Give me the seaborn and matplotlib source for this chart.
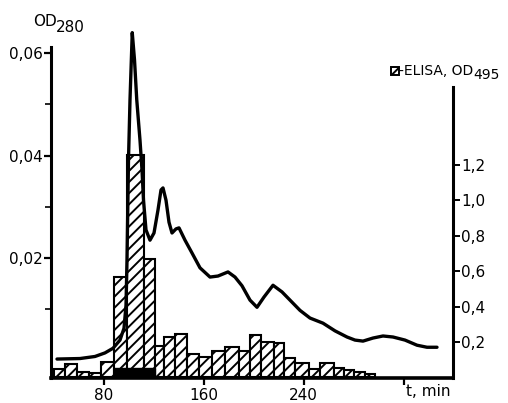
import matplotlib
matplotlib.use("Agg")
import matplotlib.pyplot as plt
from matplotlib.patches import Rectangle
import pandas as pd
import seaborn as sns

# OD280 elution profile
curve_t = [42.8, 61.2, 73.2, 81.2, 87.6, 93.2, 96.4, 98.0, 98.8, 100.0, 101.2,
           103.0, 104.8, 106.6, 109.2, 110.8, 112.0, 114.0, 117.2, 120.4, 123.6,
           126.0, 127.6, 130.0, 132.4, 134.8, 138.0, 140.4, 145.2, 150.8, 157.2,
           165.2, 171.6, 179.6, 185.2, 190.8, 197.2, 202.8, 208.4, 215.6, 222.8,
           229.2, 237.2, 245.2, 255.6, 265.2, 274.8, 281.2, 287.6, 295.6, 303.6,
           311.6, 321.2, 330.8, 338.8, 346.8]
curve_od = [0.0003, 0.0004, 0.0008, 0.0015, 0.0024, 0.0040, 0.0063, 0.0108, 0.0196,
            0.0392, 0.0509, 0.0640, 0.0587, 0.0509, 0.0430, 0.0372, 0.0313, 0.0255,
            0.0235, 0.0249, 0.0294, 0.0333, 0.0337, 0.0313, 0.0270, 0.0249, 0.0257,
            0.0259, 0.0235, 0.0210, 0.0181, 0.0163, 0.0165, 0.0173, 0.0163, 0.0146,
            0.0118, 0.0104, 0.0124, 0.0147, 0.0134, 0.0118, 0.0098, 0.0083, 0.0073,
            0.0058, 0.0046, 0.0040, 0.0038, 0.0044, 0.0048, 0.0046, 0.0040, 0.0030,
            0.0026, 0.0026]

# ELISA fractions (edges in min) and OD495
frac_edges = [40, 49, 59, 68, 78, 88, 99, 112, 121, 128, 137, 147, 156, 167, 177,
              188, 197, 206, 216, 224, 233, 244, 253, 264, 272, 280, 289, 297]
elisa_od = [0.047, 0.076, 0.030, 0.025, 0.087, 0.567, 1.257, 0.669, 0.177, 0.228,
            0.245, 0.135, 0.115, 0.149, 0.172, 0.149, 0.240, 0.200, 0.194, 0.112,
            0.081, 0.047, 0.081, 0.053, 0.042, 0.030, 0.019]

# dark block under the main peak
dark_edges = [88, 121]
dark_od = [0.053]

x_ticks = [80, 160, 240, 320]
x_labels = ["80", "160", "240", ""]
left_ticks = [0.02, 0.04, 0.06]
left_labels = ["0,02", "0,04", "0,06"]
left_minor = [0.01, 0.03, 0.05]
right_ticks = [0.2, 0.4, 0.6, 0.8, 1.0, 1.2]
right_labels = ["0,2", "0,4", "0,6", "0,8", "1,0", "1,2"]

FS = 11

sns.set_style("ticks")
plt.rcParams["font.family"] = ["DejaVu Sans"]
plt.rcParams["hatch.linewidth"] = 1.4
for key in ("text.color", "xtick.color", "ytick.color", "axes.edgecolor",
            "axes.labelcolor"):
    plt.rcParams[key] = "black"

W, H = 508, 403
fig = plt.figure(figsize=(W / 100, H / 100), dpi=100)
ax = fig.add_axes([51 / W, 25 / H, 402 / W, 331 / H])
ax2 = ax.twinx()

frac = pd.DataFrame({
    "t": [(a + b) / 2 for a, b in zip(frac_edges[:-1], frac_edges[1:])],
    "od": elisa_od,
})
sns.histplot(data=frac, x="t", weights="od", bins=frac_edges, ax=ax2,
             color="white", edgecolor="black", linewidth=1.5, alpha=1,
             hatch="///")
sns.histplot(x=[(dark_edges[0] + dark_edges[1]) / 2], weights=dark_od,
             bins=dark_edges, ax=ax2, color="black", edgecolor="black",
             linewidth=1.0, alpha=1)

prof = pd.DataFrame({"t": curve_t, "od": curve_od})
sns.lineplot(data=prof, x="t", y="od", ax=ax, color="black", linewidth=2.4)
ax.lines[0].set_clip_on(False)
ax.set_zorder(ax2.get_zorder() + 1)
ax.patch.set_visible(False)

ax.set_xlim(38, 359.6)
ax.set_ylim(-0.0034, 0.0612)
ax2.set_ylim(-0.0034, 1.867)

for a in (ax, ax2):
    for s in a.spines.values():
        s.set_visible(False)
    a.set_xlabel("")
    a.set_ylabel("")

ax.spines["left"].set_visible(True)
ax.spines["bottom"].set_visible(True)
ax.spines["left"].set_linewidth(2.2)
ax.spines["bottom"].set_linewidth(2.6)
ax2.spines["right"].set_visible(True)
ax2.spines["right"].set_linewidth(2.2)
ax2.spines["right"].set_bounds(-0.0034, 1.64)

ax.set_xticks(x_ticks)
ax.set_xticklabels(x_labels)
ax.set_yticks(left_ticks)
ax.set_yticklabels(left_labels)
ax.set_yticks(left_minor, minor=True)
ax2.set_yticks(right_ticks)
ax2.set_yticklabels(right_labels)

ax.tick_params(axis="x", direction="out", length=5, width=1.6, labelsize=FS, pad=2)
ax.tick_params(axis="y", which="major", direction="out", length=5, width=1.6,
               labelsize=FS, pad=1)
ax.tick_params(axis="y", which="minor", direction="out", length=4, width=1.2)
ax2.tick_params(axis="y", direction="out", length=5, width=1.4, labelsize=FS, pad=1)

fig.text(428 / W, 1 - 392 / H, "t, min", ha="center", va="center", fontsize=FS)
fig.text(33 / W, 1 - 21 / H, "OD", ha="left", va="center", fontsize=FS)
fig.text(56 / W, 1 - 28 / H, "280", ha="left", va="center", fontsize=FS)

fig.patches.append(Rectangle((391 / W, 1 - 75 / H), 8 / W, 8 / H,
                             transform=fig.transFigure, facecolor="white",
                             edgecolor="black", linewidth=1.4, hatch="///"))
elisa = fig.text(399 / W, 1 - 71 / H, "-ELISA, OD", ha="left", va="center",
                 fontsize=10)
fig.canvas.draw()
bb = elisa.get_window_extent(fig.canvas.get_renderer())
fig.text(bb.x1 / W + 0.5 / W, 1 - 75 / H, "495", ha="left", va="center", fontsize=10)

fig.savefig("out.png", dpi=100)
